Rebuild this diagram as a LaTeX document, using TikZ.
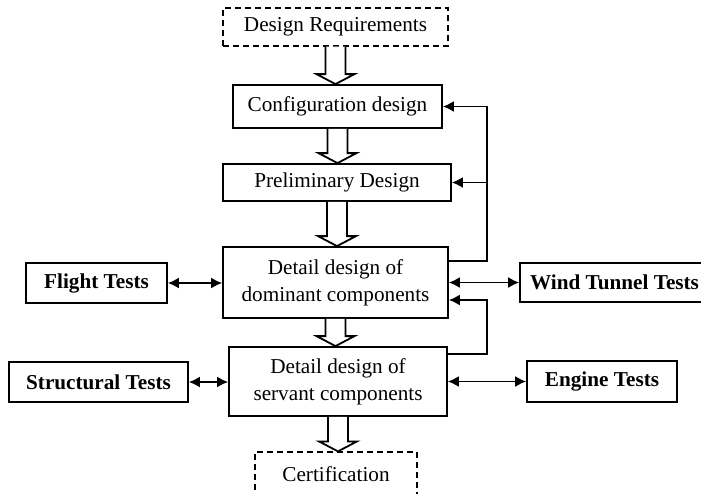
\documentclass[tikz,border=0pt]{standalone}
\usepackage{fontspec}
\setmainfont{Liberation Serif}
\usetikzlibrary{arrows.meta,calc}

% big hollow arrow from one box down to the next
\newcommand{\hollowarrow}[2]{%
  \coordinate (tip) at (#1.south |- #2.north);
  \draw[hollow] ($(#1.south)+(-10,0)$) -- ($(tip)+(-10,-10)$) -- ($(tip)+(-19,-10)$)
    -- (tip) -- ($(tip)+(19,-10)$) -- ($(tip)+(10,-10)$) -- ($(#1.south)+(10,0)$);
}

\begin{document}
\begin{tikzpicture}[
        x=0.5pt, y=-0.5pt,
        font=\fontsize{10.6}{13.5}\selectfont,
        box/.style={rectangle, draw, line width=0.9pt, align=center, inner sep=2pt},
        dbox/.style={box, dashed, line width=0.6pt, dash pattern=on 3pt off 2pt},
        testbox/.style={box, font=\fontsize{10.6}{13.5}\selectfont\bfseries},
        hollow/.style={line width=0.9pt, fill=white, line join=miter},
        link/.style={{Latex[length=5.5pt,width=5.5pt]}-{Latex[length=5.5pt,width=5.5pt]}, line width=0.8pt},
        back/.style={-{Latex[length=5.5pt,width=5.5pt]}, line width=0.8pt}
    ]
        \useasboundingbox (0,0) rectangle (701,493);

        \node[dbox, minimum width=112.5pt, minimum height=19pt] (req) at (335.5,27) {Design Requirements};
        \node[box, minimum width=104.5pt, minimum height=21.5pt] (config) at (337.5,106.5) {Configuration design};
        \node[box, minimum width=114pt, minimum height=18.5pt] (prelim) at (337,182.5) {Preliminary Design};
        \node[box, minimum width=112.5pt, minimum height=35.5pt] (dom) at (335.5,282.5) {Detail design of\\dominant components};
        \node[box, minimum width=109pt, minimum height=34.5pt] (serv) at (338,381.5) {Detail design of\\servant components};
        \node[dbox, minimum width=81pt, minimum height=22pt] (cert) at (336,474) {Certification};

        \node[testbox, minimum width=70.5pt, minimum height=20pt] (flight) at (96.5,283) {Flight Tests};
        \node[testbox, minimum width=94.5pt, minimum height=19.5pt] (wind) at (614.5,282.5) {Wind Tunnel Tests};
        \node[testbox, minimum width=89.5pt, minimum height=20pt] (struct) at (98.5,382) {Structural Tests};
        \node[testbox, minimum width=75pt, minimum height=20.5pt] (engine) at (602,381.5) {Engine Tests};

        \hollowarrow{req}{config}
        \hollowarrow{config}{prelim}
        \hollowarrow{prelim}{dom}
        \hollowarrow{dom}{serv}
        \hollowarrow{serv}{cert}

        \draw[link] (flight.east) -- (flight.east -| dom.west);
        \draw[link] (dom.east) -- (dom.east -| wind.west);
        \draw[link] (struct.east) -- (struct.east -| serv.west);
        \draw[link] (serv.east) -- (serv.east -| engine.west);

        % feedback loops
        \coordinate (fb) at (487,0);
        \draw[back] ($(dom.east)+(0,-21.5)$) -| (fb |- config.east) -- (config.east);
        \draw[back] (fb |- prelim.east) -- (prelim.east);
        \draw[back] ($(serv.east)+(0,-27.5)$) -| ($(fb |- dom.east)+(0,17.5)$) -- ($(dom.east)+(0,17.5)$);
    \end{tikzpicture}
\end{document}
